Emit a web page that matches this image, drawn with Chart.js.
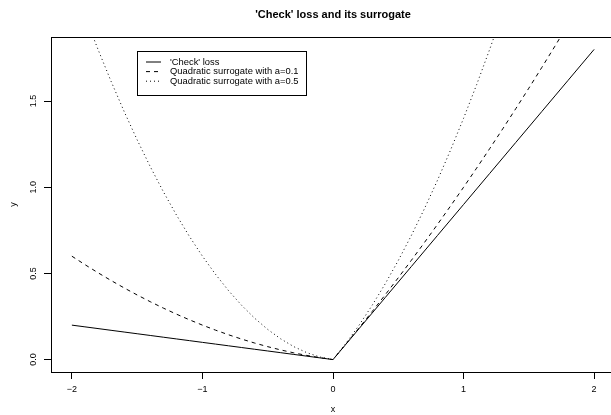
<!DOCTYPE html>
<html>
<head>
<meta charset="utf-8">
<script src="https://cdn.jsdelivr.net/npm/chart.js@4.4.0/dist/chart.umd.min.js"></script>
<style>
  html, body { margin: 0; padding: 0; background: #fff; overflow: hidden; }
  #wrap { width: 615px; height: 415px; }
</style>
</head>
<body>
<div id="wrap"><canvas id="chart" width="615" height="415"></canvas></div>
<script>
// ===========================
// DATA
// ===========================
const xValues = [-2.0, -1.9, -1.8, -1.7, -1.6, -1.5, -1.4, -1.3, -1.2, -1.1, -1.0,
  -0.9, -0.8, -0.7, -0.6, -0.5, -0.4, -0.3, -0.2, -0.1, 0.0,
  0.1, 0.2, 0.3, 0.4, 0.5, 0.6, 0.7, 0.8, 0.9, 1.0,
  1.1, 1.2, 1.3, 1.4, 1.5, 1.6, 1.7, 1.8, 1.9, 2.0];

const checkLoss = [0.20, 0.19, 0.18, 0.17, 0.16, 0.15, 0.14, 0.13, 0.12, 0.11, 0.10,
  0.09, 0.08, 0.07, 0.06, 0.05, 0.04, 0.03, 0.02, 0.01, 0.00,
  0.09, 0.18, 0.27, 0.36, 0.45, 0.54, 0.63, 0.72, 0.81, 0.90,
  0.99, 1.08, 1.17, 1.26, 1.35, 1.44, 1.53, 1.62, 1.71, 1.80];

const surrogateA01 = [0.600, 0.551, 0.504, 0.459, 0.416, 0.375, 0.336, 0.299, 0.264, 0.231, 0.200,
  0.171, 0.144, 0.119, 0.096, 0.075, 0.056, 0.039, 0.024, 0.011, 0.000,
  0.091, 0.184, 0.279, 0.376, 0.475, 0.576, 0.679, 0.784, 0.891, 1.000,
  1.111, 1.224, 1.339, 1.456, 1.575, 1.696, 1.819, 1.944, 2.071, 2.200];

const surrogateA05 = [2.200, 1.995, 1.800, 1.615, 1.440, 1.275, 1.120, 0.975, 0.840, 0.715, 0.600,
  0.495, 0.400, 0.315, 0.240, 0.175, 0.120, 0.075, 0.040, 0.015, 0.000,
  0.095, 0.200, 0.315, 0.440, 0.575, 0.720, 0.875, 1.040, 1.215, 1.400,
  1.595, 1.800, 2.015, 2.240, 2.475, 2.720, 2.975, 3.240, 3.515, 3.800];

const seriesLabels = ["'Check' loss", 'Quadratic surrogate with a=0.1', 'Quadratic surrogate with a=0.5'];
const xTicks = [-2, -1, 0, 1, 2];
const yTicks = [0, 0.5, 1.0, 1.5];
const titleText = "'Check' loss and its surrogate";

// ===========================
// HELPERS
// ===========================
const FONT = '"Liberation Sans", Arial, Helvetica, sans-serif';
const toPoints = ys => xValues.map((x, i) => ({ x: x, y: ys[i] }));

// title, box and legend drawn like base R graphics
const rDecor = {
  id: 'rDecor',
  afterDraw(chart) {
    const { ctx, chartArea: a } = chart;
    ctx.save();
    // box round the plot region
    ctx.strokeStyle = '#000';
    ctx.lineWidth = 1;
    ctx.setLineDash([]);
    ctx.strokeRect(Math.round(a.left) + 0.5, Math.round(a.top) + 0.5,
      Math.round(a.right - a.left), Math.round(a.bottom - a.top));

    // main title
    ctx.fillStyle = '#000';
    ctx.font = 'bold 11px ' + FONT;
    ctx.textAlign = 'center';
    ctx.textBaseline = 'middle';
    ctx.fillText(titleText, (a.left + a.right) / 2, 15);

    // legend
    const lx = 137.5, ly = 51.5, lw = 169, lh = 44;
    ctx.fillStyle = '#fff';
    ctx.fillRect(lx, ly, lw, lh);
    ctx.strokeRect(lx, ly, lw, lh);
    ctx.font = '9.4px ' + FONT;
    ctx.textAlign = 'left';
    chart.data.datasets.forEach((ds, i) => {
      const y = 62 + i * 9.6;
      ctx.beginPath();
      ctx.setLineDash(ds.borderDash || []);
      ctx.strokeStyle = ds.borderColor;
      ctx.moveTo(146, y);
      ctx.lineTo(161, y);
      ctx.stroke();
      ctx.setLineDash([]);
      ctx.fillStyle = '#000';
      ctx.fillText(ds.label, 170, y);
    });
    ctx.restore();
  }
};

// ===========================
// CHART
// ===========================
const ctx = document.getElementById('chart').getContext('2d');

new Chart(ctx, {
  type: 'scatter',
  data: {
    datasets: [{
      label: seriesLabels[0],
      data: toPoints(checkLoss),
      showLine: true,
      borderColor: '#000',
      borderWidth: 1,
      pointRadius: 0
    }, {
      label: seriesLabels[1],
      data: toPoints(surrogateA01),
      showLine: true,
      borderColor: '#000',
      borderWidth: 1,
      borderDash: [4, 4],
      pointRadius: 0
    }, {
      label: seriesLabels[2],
      data: toPoints(surrogateA05),
      showLine: true,
      borderColor: '#000',
      borderWidth: 1,
      borderDash: [1, 3],
      pointRadius: 0
    }]
  },
  options: {
    responsive: false,
    animation: false,
    layout: { padding: { top: 37, left: 0, right: 0, bottom: 0 } },
    scales: {
      x: {
        type: 'linear',
        min: -2.16,
        max: 2.16,
        afterBuildTicks: s => { s.ticks = xTicks.map(v => ({ value: v })); },
        afterFit: s => { s.height = 43; },
        grid: { drawOnChartArea: false, drawTicks: true, tickLength: 7, color: '#000', tickColor: '#000' },
        border: { display: true, color: '#000', width: 1 },
        ticks: { color: '#000', font: { family: FONT, size: 9 }, padding: 5, callback: v => String(v).replace('-', '\u2212') },
        title: { display: true, text: 'x', color: '#000', font: { family: FONT, size: 9 }, padding: { top: 0, bottom: 0 } }
      },
      y: {
        type: 'linear',
        min: -0.072,
        max: 1.872,
        afterBuildTicks: s => { s.ticks = yTicks.map(v => ({ value: v })); },
        afterFit: s => { s.width = 51; },
        grid: { drawOnChartArea: false, drawTicks: true, tickLength: 7, color: '#000', tickColor: '#000' },
        border: { display: true, color: '#000', width: 1 },
        ticks: { color: '#000', font: { family: FONT, size: 9 }, padding: 4, minRotation: 90, maxRotation: 90, crossAlign: 'center', callback: v => Number(v).toFixed(1) },
        title: { display: true, text: 'y', color: '#000', font: { family: FONT, size: 9 }, padding: { top: 8, bottom: 0 } }
      }
    },
    plugins: {
      legend: { display: false },
      title: { display: false },
      tooltip: { enabled: false }
    }
  },
  plugins: [rDecor]
});
</script>
</body>
</html>
